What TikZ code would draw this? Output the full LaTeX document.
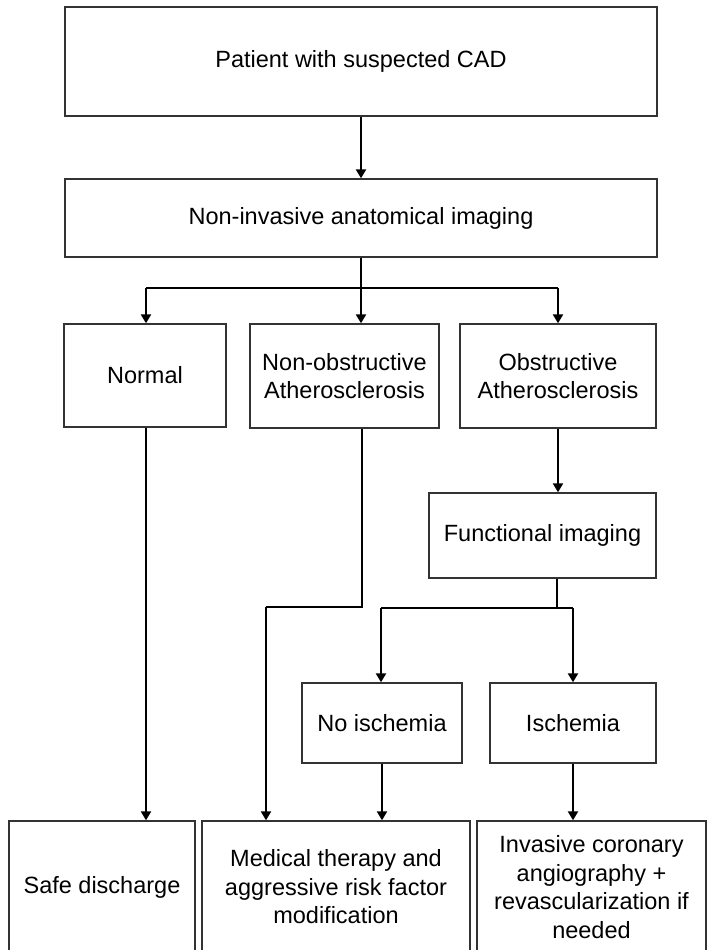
\documentclass[tikz,border=0pt]{standalone}
\usepackage{fontspec}
\setmainfont{Liberation Sans}
\usetikzlibrary{arrows.meta}
\begin{document}
\begin{tikzpicture}[x=1pt,y=-1pt,
  box/.style={draw=black!80, line width=1.4pt, fill=white, inner sep=0pt, align=center,
    font=\fontsize{23.5}{28.5}\selectfont, text=black},
  thinline/.style={draw=black, line width=1.4pt},
  thickline/.style={draw=black, line width=2.4pt},
  arrowline/.style={draw=black, line width=2.4pt, -{Triangle[width=10pt,length=9pt]}}
]
\useasboundingbox (0,0) rectangle (707,950);

% boxes
\node[box, minimum width=592pt, minimum height=109pt] (top) at (361,61.5) {Patient with suspected CAD};
\node[box, minimum width=592pt, minimum height=78pt] (anat) at (361,218) {Non-invasive anatomical imaging};
\node[box, minimum width=162pt, minimum height=103pt] (normal) at (145,375.5) {Normal};
\node[box, minimum width=189pt, minimum height=104pt] (nonobs) at (344.5,376) {Non-obstructive\\Atherosclerosis};
\node[box, minimum width=196pt, minimum height=104pt] (obs) at (558,376) {Obstructive\\Atherosclerosis};
\node[box, minimum width=227pt, minimum height=85pt] (func) at (542.5,535.5) {Functional imaging};
\node[box, minimum width=160pt, minimum height=80pt] (noisch) at (382,723) {No ischemia};
\node[box, minimum width=166pt, minimum height=80pt] (isch) at (573,723) {Ischemia};
\node[box, minimum width=186pt, minimum height=132pt] (safe) at (102,887) {Safe discharge};
\node[box, minimum width=268pt, minimum height=132pt] (med) at (336,887) {Medical therapy and\\aggressive risk factor\\modification};
\node[box, minimum width=229pt, minimum height=132pt] (inv) at (591.5,887) {Invasive coronary\\angiography +\\revascularization if\\needed};

% branch coordinates
\coordinate (b0) at (361,288);
\coordinate (bL) at (146,288);
\coordinate (bR) at (558,288);
\coordinate (j0) at (362,607);
\coordinate (j1) at (266,607);
\coordinate (f0) at (557,608);
\coordinate (fL) at (381,608);
\coordinate (fR) at (573,608);

% connectors
\draw[arrowline] (top.south) -- (anat.north);
\draw[thickline] (anat.south) -- (b0);
\draw[thinline] (bL) -- (bR);
\draw[arrowline] (bL) -- (bL |- normal.north);
\draw[arrowline] (b0) -- (b0 |- nonobs.north);
\draw[arrowline] (bR) -- (bR |- obs.north);
\draw[arrowline] (obs.south) -- (obs.south |- func.north);
\draw[thinline] (func.south -| f0) -- (f0);
\draw[thinline] (fL) -- (fR);
\draw[arrowline] (fL) -- (fL |- noisch.north);
\draw[arrowline] (fR) -- (fR |- isch.north);
\draw[arrowline] (normal.south -| bL) -- (bL |- safe.north);
\draw[thinline] (nonobs.south -| j0) -- (j0) -- (j1);
\draw[arrowline] (j1) -- (j1 |- med.north);
\draw[arrowline] (noisch.south) -- (noisch.south |- med.north);
\draw[arrowline] (isch.south) -- (isch.south |- inv.north);
\end{tikzpicture}
\end{document}
